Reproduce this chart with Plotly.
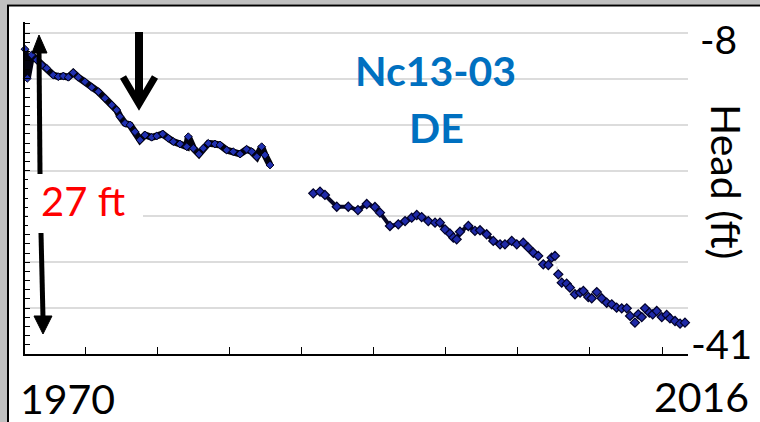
import plotly.graph_objects as go

# ---- data (year, head in ft) ----
years_a = [1970.00, 1970.16, 1970.46, 1970.81, 1971.16, 1971.51, 1971.96, 1972.31, 1972.66, 1973.00,
           1973.35, 1973.70, 1974.16, 1974.63, 1975.09, 1975.55, 1976.02, 1976.36, 1976.59, 1976.94,
           1977.29, 1977.63, 1977.98, 1978.33, 1978.79, 1979.14, 1979.55, 1979.94, 1980.29, 1980.75,
           1981.22, 1981.33, 1981.68, 1982.07, 1982.37, 1982.72, 1983.18, 1983.53, 1983.99, 1984.45,
           1984.92, 1985.38, 1985.73, 1986.08, 1986.42, 1986.65, 1987.00]
head_a = [-9.67, -12.66, -10.26, -10.77, -11.29, -11.63, -12.32, -12.49, -12.42, -12.55,
          -12.08, -12.55, -13.01, -13.58, -14.03, -14.71, -15.40, -15.92, -16.60, -17.28,
          -17.46, -18.15, -19.00, -18.49, -18.72, -18.59, -18.38, -18.82, -19.17, -19.41,
          -19.69, -18.66, -19.85, -20.44, -19.85, -19.34, -19.41, -19.51, -20.03, -20.20,
          -20.44, -19.96, -20.20, -20.72, -19.69, -20.54, -21.57]

years_b = [1990.00, 1990.47, 1990.81, 1991.63, 1992.43, 1993.10, 1993.71, 1994.28, 1994.63, 1995.32,
           1995.90, 1996.37, 1996.83, 1997.18, 1997.52, 1997.98, 1998.45, 1998.79, 1999.14, 1999.49,
           1999.72, 1999.95, 2000.18, 2000.76, 2001.22, 2001.57, 2002.03, 2002.49, 2002.96, 2003.30,
           2003.77, 2004.12, 2004.57, 2004.92, 2005.27, 2005.61, 2005.96, 2006.31, 2006.54, 2006.77,
           2007.00, 2007.24, 2007.58, 2007.81, 2008.16, 2008.51, 2008.74, 2009.08, 2009.32, 2009.67,
           2010.01, 2010.36, 2010.71, 2011.05, 2011.40, 2011.75, 2011.98, 2012.32, 2012.55, 2012.79,
           2013.02, 2013.32, 2013.55, 2013.83, 2014.18, 2014.52, 2014.75, 2015.10, 2015.45, 2015.79,
           2016.09]
head_b = [-24.48, -24.31, -24.65, -25.86, -25.86, -26.20, -25.58, -25.89, -26.47, -27.84,
          -27.67, -27.33, -26.99, -26.71, -26.92, -27.33, -27.50, -27.50, -28.18, -28.63,
          -29.04, -29.21, -28.43, -27.84, -28.35, -28.28, -28.69, -29.38, -29.72, -29.72,
          -29.38, -29.72, -29.56, -30.07, -30.59, -30.92, -31.78, -31.85, -31.10, -30.92,
          -32.81, -33.67, -33.77, -34.18, -34.86, -34.70, -34.52, -35.14, -35.27, -34.63,
          -35.27, -35.73, -35.89, -36.24, -36.30, -36.30, -37.09, -37.78, -36.92, -37.20,
          -36.30, -36.75, -36.92, -36.58, -37.20, -36.99, -37.33, -37.61, -37.88, -37.78,
          -38.19]

x_tick_vals = [1974.2 + 5 * k for k in range(9)]
y_min, y_max = -41, -8
label_top, label_bottom = "-8", "-41"
label_start, label_end = "1970", "2016"

# ---- layout geometry (pixels) ----
W, H = 760, 422
L, R, T, B = 25, 72, 22, 68
PW, PH = W - L - R, H - T - B


def X(px):
    return (px - L) / PW


def Y(py):
    return (H - B - py) / PH


px_per_ft = (PH - 11) / (y_max - y_min)
y_top = y_min + PH / px_per_ft

fig = go.Figure()

all_x = years_a + [None] + years_b
all_y = head_a + [None] + head_b

fig.add_trace(go.Scatter(x=all_x, y=all_y, mode="lines",
                         line=dict(color="#d4d4d4", width=1.5, dash="dot"),
                         connectgaps=False, hoverinfo="skip", showlegend=False))
fig.add_trace(go.Scatter(x=years_a, y=head_a, mode="lines",
                         line=dict(color="#03030f", width=7),
                         hoverinfo="skip", showlegend=False))
fig.add_trace(go.Scatter(x=years_a, y=head_a, mode="markers",
                         marker=dict(symbol="diamond", size=6, color="#2030b0",
                                     line=dict(color="#00001a", width=1)),
                         cliponaxis=False, showlegend=False))
fig.add_trace(go.Scatter(x=years_b[:30], y=head_b[:30], mode="lines",
                         line=dict(color="#080828", width=4),
                         hoverinfo="skip", showlegend=False))
fig.add_trace(go.Scatter(x=years_b, y=head_b, mode="markers",
                         marker=dict(symbol="diamond", size=7, color="#1f2aa8",
                                     line=dict(color="#00002a", width=1.2)),
                         cliponaxis=False, showlegend=False))

shapes = []
# outer frame
shapes.append(dict(type="rect", xref="paper", yref="paper", x0=X(0), x1=X(W), y0=Y(0), y1=Y(4.5),
                   fillcolor="#c0c0c0", line=dict(width=0), layer="below"))
shapes.append(dict(type="rect", xref="paper", yref="paper", x0=X(0), x1=X(7), y0=Y(0), y1=Y(H),
                   fillcolor="#c0c0c0", line=dict(width=0), layer="below"))
shapes.append(dict(type="line", xref="paper", yref="paper", x0=X(7), x1=X(W), y0=Y(5.5), y1=Y(5.5),
                   line=dict(color="black", width=2)))
shapes.append(dict(type="line", xref="paper", yref="paper", x0=X(8), x1=X(8), y0=Y(5.5), y1=Y(H),
                   line=dict(color="black", width=2)))
# white box behind "27 ft"
shapes.append(dict(type="rect", xref="paper", yref="paper", x0=X(28), x1=X(143), y0=Y(176), y1=Y(229),
                   fillcolor="white", line=dict(width=0)))


def path(points, close=False):
    s = "M" + " L".join(f"{X(px):.5f},{Y(py):.5f}" for px, py in points)
    return s + (" Z" if close else "")


# big down arrow (open head)
shapes.append(dict(type="line", xref="paper", yref="paper", x0=X(139), x1=X(139), y0=Y(32), y1=Y(102),
                   line=dict(color="black", width=8)))
shapes.append(dict(type="path", xref="paper", yref="paper",
                   path=path([(123, 77), (139, 104), (155, 77)]),
                   line=dict(color="black", width=7)))
# 27 ft up arrow
shapes.append(dict(type="line", xref="paper", yref="paper", x0=X(40), x1=X(39), y0=Y(174), y1=Y(50),
                   line=dict(color="black", width=5)))
shapes.append(dict(type="path", xref="paper", yref="paper",
                   path=path([(32, 53), (39, 35), (47, 53)], close=True),
                   fillcolor="black", line=dict(color="black", width=1)))
# 27 ft down arrow
shapes.append(dict(type="line", xref="paper", yref="paper", x0=X(41), x1=X(43), y0=Y(233), y1=Y(318),
                   line=dict(color="black", width=5)))
shapes.append(dict(type="path", xref="paper", yref="paper",
                   path=path([(34, 316), (43, 334), (52, 316)], close=True),
                   fillcolor="black", line=dict(color="black", width=1)))

ann = []


def text(px, py, s, size, color="black", bold=False, angle=0):
    ann.append(dict(x=X(px), y=Y(py), xref="paper", yref="paper", text=f"<b>{s}</b>" if bold else s,
                    showarrow=False, textangle=angle, xanchor="center", yanchor="middle",
                    font=dict(family="Lato", size=size, color=color)))


text(718, 39, label_top, 39)
text(721, 344, label_bottom, 40)
text(67, 399, label_start, 41)
text(701, 396, label_end, 41)
text(727, 181, "Head (ft)", 41, angle=90)
text(435, 70, "Nc13-03", 41, color="#0070C0", bold=True)
text(436, 128, "DE", 41, color="#0070C0", bold=True)
text(83, 201, "27 ft", 40, color="#FF0000")

fig.update_layout(
    width=W, height=H,
    margin=dict(l=L, r=R, t=T, b=B),
    paper_bgcolor="white", plot_bgcolor="white",
    showlegend=False,
    shapes=shapes, annotations=ann,
    xaxis=dict(range=[1970, 2016], showgrid=False, zeroline=False,
               showline=True, linecolor="black", linewidth=1.5,
               tickmode="array", tickvals=x_tick_vals, ticks="inside", ticklen=7,
               tickcolor="black", tickwidth=1.2, showticklabels=False),
    yaxis=dict(range=[y_min, y_top], showgrid=True, gridcolor="#dcdcdc", gridwidth=1.5,
               zeroline=False, showline=True, linecolor="black", linewidth=1.5,
               tick0=y_min, dtick=(y_max - y_min) / 7, ticks="inside", ticklen=5,
               tickcolor="black", tickwidth=1, showticklabels=False,
               minor=dict(tick0=y_min, dtick=(y_max - y_min) / 35, ticks="inside", ticklen=5,
                          tickcolor="black", tickwidth=1, showgrid=False)),
)

fig.write_html("out.html", config={"displayModeBar": False},
               post_script="document.body.style.margin='0px';document.body.style.overflow='hidden';")
